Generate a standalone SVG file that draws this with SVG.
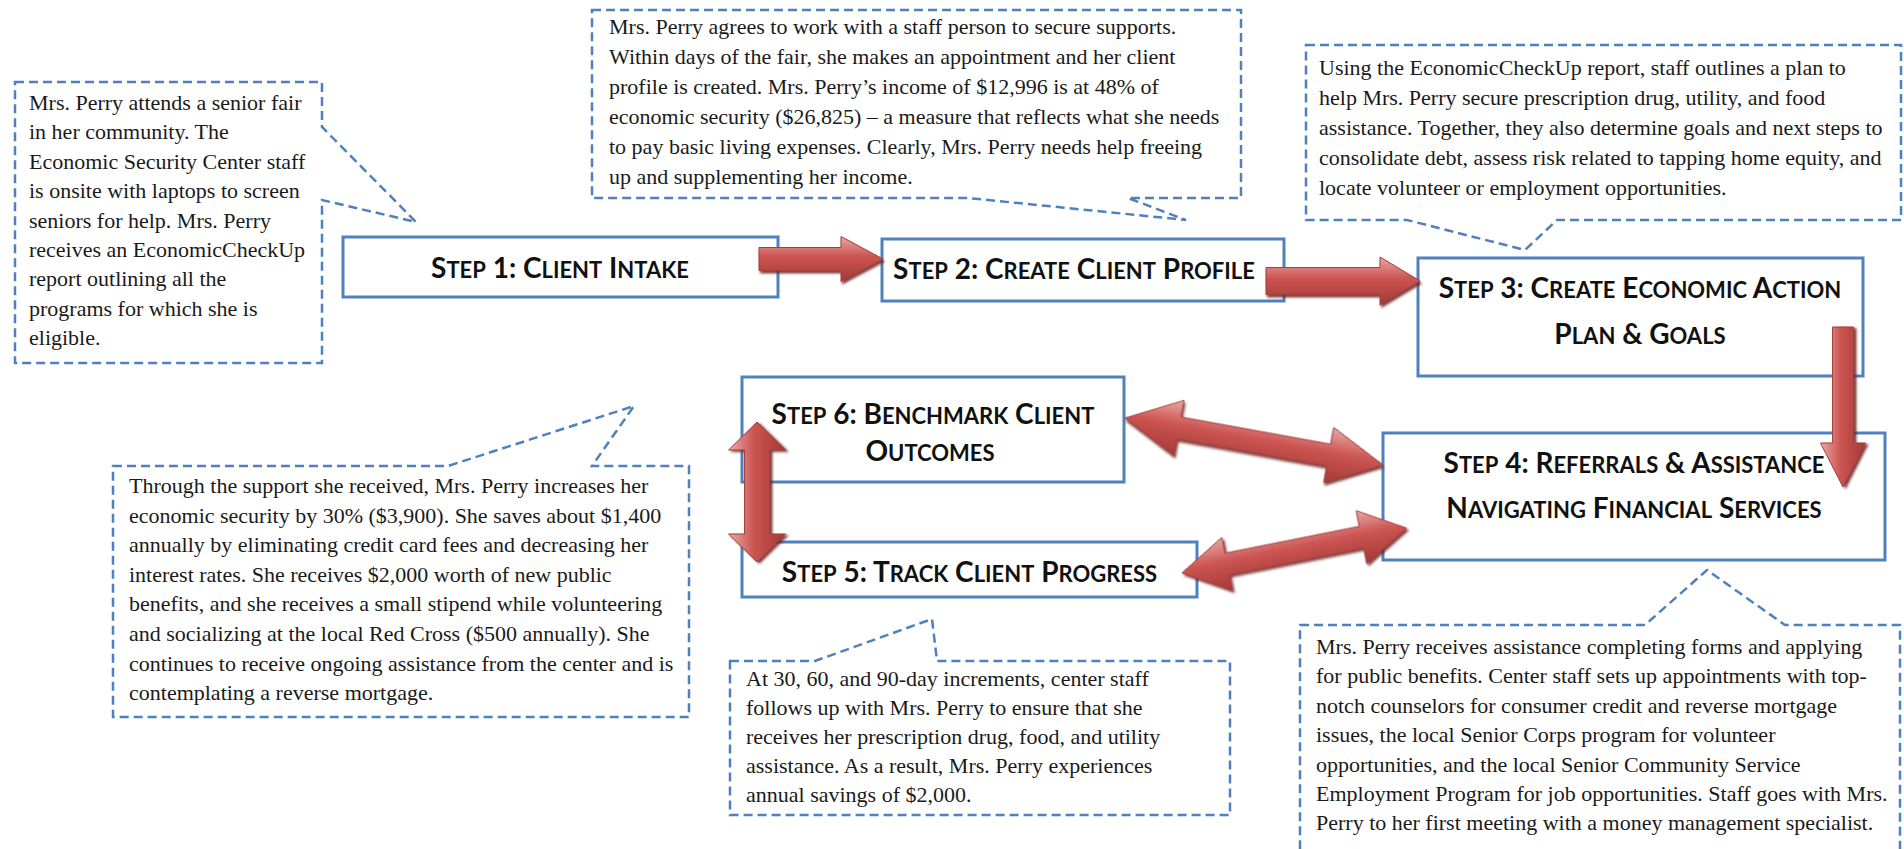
<svg xmlns="http://www.w3.org/2000/svg" width="1904" height="849" viewBox="0 0 1904 849">
<style>
.bg{fill:#ffffff}
.call{fill:none;stroke:#4F81BD;stroke-width:2.5;stroke-dasharray:9 5}
.ct{font-family:"Liberation Serif","Times New Roman",serif;font-size:22px;fill:#1a1a1a}
.box{fill:#ffffff;stroke:#4F81BD;stroke-width:3}
.lbl{font-family:"Lato","Open Sans",sans-serif;font-weight:bold;font-size:28px;fill:#111111;text-anchor:middle}
.s{font-size:22px}
.arr{fill:url(#rg);stroke:#A3403D;stroke-width:1;filter:url(#sh)}
</style>
<defs>
<linearGradient id="rg" x1="0" y1="0" x2="0" y2="1">
<stop offset="0" stop-color="#E9A9A7"/>
<stop offset="0.45" stop-color="#CB5451"/>
<stop offset="1" stop-color="#A53936"/>
</linearGradient>
<filter id="sh" x="-10%" y="-30%" width="120%" height="160%">
<feDropShadow dx="1.5" dy="2.5" stdDeviation="1" flood-color="#6E1E1C" flood-opacity="0.85"/>
</filter>
</defs>
<rect class="bg" x="0" y="0" width="1904" height="849"/>

<g id="callout-intake">
<path class="call" d="M15,82 H322 V127 L416,222 L322,200 V363 H15 Z"/>
<text class="ct" x="29" y="110">Mrs. Perry attends a senior fair</text>
<text class="ct" x="29" y="139.4">in her community. The</text>
<text class="ct" x="29" y="168.8">Economic Security Center staff</text>
<text class="ct" x="29" y="198.2">is onsite with laptops to screen</text>
<text class="ct" x="29" y="227.6">seniors for help. Mrs. Perry</text>
<text class="ct" x="29" y="257">receives an EconomicCheckUp</text>
<text class="ct" x="29" y="286.4">report outlining all the</text>
<text class="ct" x="29" y="315.8">programs for which she is</text>
<text class="ct" x="29" y="345.2">eligible.</text>
</g>

<g id="callout-profile">
<path class="call" d="M592,10 H1241 V198 H1128 L1186,220 L968,198 H592 Z"/>
<text class="ct" x="609" y="34">Mrs. Perry agrees to work with a staff person to secure supports.</text>
<text class="ct" x="609" y="64">Within days of the fair, she makes an appointment and her client</text>
<text class="ct" x="609" y="94">profile is created. Mrs. Perry’s income of $12,996 is at 48% of</text>
<text class="ct" x="609" y="124">economic security ($26,825) – a measure that reflects what she needs</text>
<text class="ct" x="609" y="154">to pay basic living expenses. Clearly, Mrs. Perry needs help freeing</text>
<text class="ct" x="609" y="184">up and supplementing her income.</text>
</g>

<g id="callout-plan">
<path class="call" d="M1306,45 H1901 V220 H1557 L1525,250 L1407,220 H1306 Z"/>
<text class="ct" x="1319" y="75">Using the EconomicCheckUp report, staff outlines a plan to</text>
<text class="ct" x="1319" y="105">help Mrs. Perry secure prescription drug, utility, and food</text>
<text class="ct" x="1319" y="135">assistance. Together, they also determine goals and next steps to</text>
<text class="ct" x="1319" y="165">consolidate debt, assess risk related to tapping home equity, and</text>
<text class="ct" x="1319" y="195">locate volunteer or employment opportunities.</text>
</g>

<g id="callout-outcomes">
<path class="call" d="M113,466 H448 L634,406 L592,466 H689 V717 H113 Z"/>
<text class="ct" x="129" y="493">Through the support she received, Mrs. Perry increases her</text>
<text class="ct" x="129" y="522.6">economic security by 30% ($3,900). She saves about $1,400</text>
<text class="ct" x="129" y="552.2">annually by eliminating credit card fees and decreasing her</text>
<text class="ct" x="129" y="581.8">interest rates. She receives $2,000 worth of new public</text>
<text class="ct" x="129" y="611.4">benefits, and she receives a small stipend while volunteering</text>
<text class="ct" x="129" y="641">and socializing at the local Red Cross ($500 annually). She</text>
<text class="ct" x="129" y="670.6">continues to receive ongoing assistance from the center and is</text>
<text class="ct" x="129" y="700.2">contemplating a reverse mortgage.</text>
</g>

<g id="callout-progress">
<path class="call" d="M730,661 H815 L932,619 L937,661 H1230 V815 H730 Z"/>
<text class="ct" x="746" y="686">At 30, 60, and 90-day increments, center staff</text>
<text class="ct" x="746" y="715">follows up with Mrs. Perry to ensure that she</text>
<text class="ct" x="746" y="744">receives her prescription drug, food, and utility</text>
<text class="ct" x="746" y="773">assistance. As a result, Mrs. Perry experiences</text>
<text class="ct" x="746" y="802">annual savings of $2,000.</text>
</g>

<g id="callout-referrals">
<path class="call" d="M1300,625 H1645 L1707,570 L1785,625 H1900 V853 H1300 Z"/>
<text class="ct" x="1316" y="654">Mrs. Perry receives assistance completing forms and applying</text>
<text class="ct" x="1316" y="683.4">for public benefits. Center staff sets up appointments with top-</text>
<text class="ct" x="1316" y="712.8">notch counselors for consumer credit and reverse mortgage</text>
<text class="ct" x="1316" y="742.2">issues, the local Senior Corps program for volunteer</text>
<text class="ct" x="1316" y="771.6">opportunities, and the local Senior Community Service</text>
<text class="ct" x="1316" y="801">Employment Program for job opportunities. Staff goes with Mrs.</text>
<text class="ct" x="1316" y="830.4">Perry to her first meeting with a money management specialist.</text>
</g>

<g id="step1">
<rect class="box" x="343" y="237" width="435" height="60"/>
<text class="lbl" x="560" y="278">S<tspan class="s">TEP</tspan> 1: C<tspan class="s">LIENT</tspan> I<tspan class="s">NTAKE</tspan></text>
</g>

<g id="step2">
<rect class="box" x="882" y="239" width="402" height="62"/>
<text class="lbl" x="1074" y="279">S<tspan class="s">TEP</tspan> 2: C<tspan class="s">REATE</tspan> C<tspan class="s">LIENT</tspan> P<tspan class="s">ROFILE</tspan></text>
</g>

<g id="step3">
<rect class="box" x="1418" y="258" width="445" height="118"/>
<text class="lbl" x="1640" y="298">S<tspan class="s">TEP</tspan> 3: C<tspan class="s">REATE</tspan> E<tspan class="s">CONOMIC</tspan> A<tspan class="s">CTION</tspan></text>
<text class="lbl" x="1640" y="344">P<tspan class="s">LAN</tspan> &amp; G<tspan class="s">OALS</tspan></text>
</g>

<g id="step4">
<rect class="box" x="1383" y="433" width="502" height="127"/>
<text class="lbl" x="1634" y="473">S<tspan class="s">TEP</tspan> 4: R<tspan class="s">EFERRALS</tspan> &amp; A<tspan class="s">SSISTANCE</tspan></text>
<text class="lbl" x="1634" y="518">N<tspan class="s">AVIGATING</tspan> F<tspan class="s">INANCIAL</tspan> S<tspan class="s">ERVICES</tspan></text>
</g>

<g id="step6">
<rect class="box" x="742" y="377" width="382" height="105"/>
<text class="lbl" x="933" y="424">S<tspan class="s">TEP</tspan> 6: B<tspan class="s">ENCHMARK</tspan> C<tspan class="s">LIENT</tspan></text>
<text class="lbl" x="930" y="461">O<tspan class="s">UTCOMES</tspan></text>
</g>

<g id="step5">
<rect class="box" x="742" y="542" width="455" height="55"/>
<text class="lbl" x="969.5" y="582">S<tspan class="s">TEP</tspan> 5: T<tspan class="s">RACK</tspan> C<tspan class="s">LIENT</tspan> P<tspan class="s">ROGRESS</tspan></text>
</g>

<g id="connectors">
<polygon class="arr" transform="translate(759,259)" points="0,-11.5 82,-11.5 82,-22.5 124,0 82,22.5 82,11.5 0,11.5"/>
<polygon class="arr" transform="translate(1266,281)" points="0,-13.5 114,-13.5 114,-24 154,0 114,24 114,13.5 0,13.5"/>
<polygon class="arr" transform="translate(1843,327) rotate(90) scale(1,-1)" points="0,-10.5 116,-10.5 116,-22.5 160,0 116,22.5 116,10.5 0,10.5"/>
<polygon class="arr" transform="translate(1125,418) rotate(10.3)" points="0,0 55,-28 55,-11 207,-11 207,-28 262,0 207,28 207,11 55,11 55,28"/>
<polygon class="arr" transform="translate(1182,573) rotate(-11.3)" points="0,0 46,-27 46,-11 183,-11 183,-27 229,0 183,27 183,11 46,11 46,27"/>
<polygon class="arr" transform="translate(757,422) rotate(90) scale(1,-1)" points="0,0 28,-28.5 28,-12.5 112,-12.5 112,-28.5 140,0 112,28.5 112,12.5 28,12.5 28,28.5"/>
</g>
</svg>
